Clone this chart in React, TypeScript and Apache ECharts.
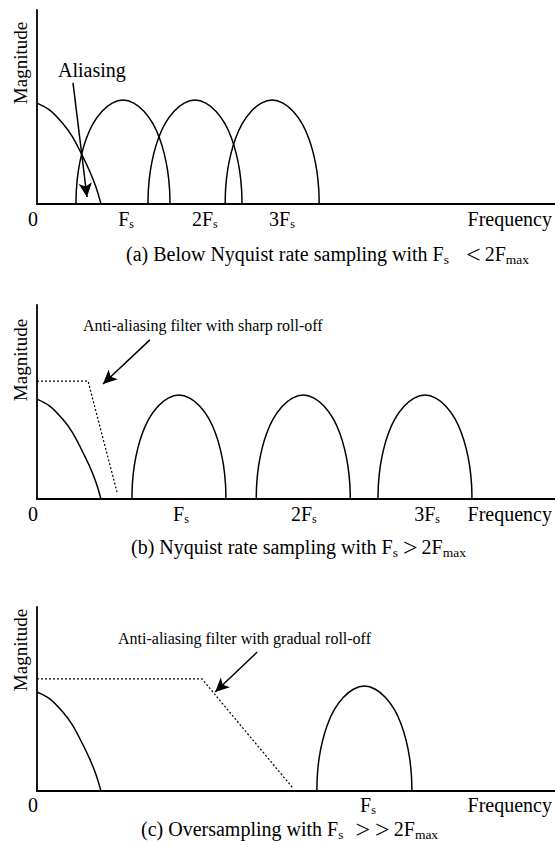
import React, { useEffect, useRef } from "react";
import * as echarts from "echarts";

// ---------- shared shape profiles ----------
// sampled lobe (image of the baseband spectrum): offset from centre (in half-widths) and relative height
const LOBE_DX = [-1, -0.99, -0.95, -0.88, -0.78, -0.64, -0.45, -0.23, 0, 0.23, 0.45, 0.64, 0.78, 0.88, 0.95, 0.99, 1];
const LOBE_H = [0, 0.15, 0.32, 0.48, 0.63, 0.77, 0.89, 0.97, 1, 0.97, 0.89, 0.77, 0.63, 0.48, 0.32, 0.15, 0];
// baseband spectrum (right half): fraction of its extent and relative height
const BASE_DX = [0, 0.2, 0.4, 0.55, 0.7, 0.82, 0.92, 1];
const BASE_H = [1, 0.93, 0.8, 0.67, 0.49, 0.33, 0.17, 0];

// ---------- panel (a) ----------
const A_BASE_END = 12.35;
const A_BASE_PEAK = 0.52;
const A_LOBE_CENTERS = [16.6, 30.5, 45.4];
const A_LOBE_HALF = 9.07;
const A_LOBE_PEAK = 0.536;
const A_TICK_VALUES = [0, 17.2, 32.4, 47.3];
const A_TICK_LABELS = [["0", ""], ["F", "s"], ["2F", "s"], ["3F", "s"]];
const A_ARROW = [[6.95, 0.624], [9.65, 0.036]];
const A_NOTE = "Aliasing";
const A_CAPTION = [["(a) Below Nyquist rate sampling with F", "m"], ["s", "s"], ["<", "ra"], ["2F", "m"], ["max", "s"]];

// ---------- panel (b) ----------
const B_BASE_END = 12.35;
const B_BASE_PEAK = 0.515;
const B_FILTER_X = [0, 9.85, 15.44];
const B_FILTER_Y = [0.608, 0.608, 0.036];
const B_LOBE_CENTERS = [27.4, 51.4, 74.9];
const B_LOBE_HALF = 9.07;
const B_LOBE_PEAK = 0.536;
const B_TICK_VALUES = [0, 27.8, 51.5, 75.3];
const B_TICK_LABELS = [["0", ""], ["F", "s"], ["2F", "s"], ["3F", "s"]];
const B_ARROW = [[21.8, 0.82], [12.74, 0.593]];
const B_NOTE = "Anti-aliasing filter with sharp roll-off";
const B_CAPTION = [["(b) Nyquist rate sampling with F", "m"], ["s", "s"], [">", "rb"], ["2F", "m"], ["max", "s"]];

// ---------- panel (c) ----------
const C_BASE_END = 12.35;
const C_BASE_PEAK = 0.538;
const C_FILTER_X = [0, 31.85, 49.4];
const C_FILTER_Y = [0.609, 0.609, 0.016];
const C_LOBE_CENTERS = [63.2];
const C_LOBE_HALF = 9.17;
const C_LOBE_PEAK = 0.57;
const C_TICK_VALUES = [0, 63.9];
const C_TICK_LABELS = [["0", ""], ["F", "s"]];
const C_ARROW = [[42.5, 0.755], [34.4, 0.538]];
const C_NOTE = "Anti-aliasing filter with gradual roll-off";
const C_CAPTION = [["(c) Oversampling with F", "m"], ["s", "s"], [">", "rc"], [">", "rd"], ["2F", "m"], ["max", "s"]];

const Y_NAME = "Magnitude";
const X_NAME = "Frequency";
const X_MAX = 100;

const FONT = "Liberation Serif, Times New Roman, serif";
const BLACK = "#000";

const lobeData = (c: number, half: number, peak: number) =>
  LOBE_DX.map((d, i) => [c + d * half, LOBE_H[i] * peak]);
const baseData = (end: number, peak: number) => BASE_DX.map((d, i) => [d * end, BASE_H[i] * peak]);

const richLabel = {
  m: { fontSize: 20, fontFamily: FONT, color: BLACK, lineHeight: 20 },
  s: { fontSize: 12, fontFamily: FONT, color: BLACK, lineHeight: 10, padding: [9, 0, 0, 0] },
  z: { fontSize: 20, fontFamily: FONT, color: BLACK, lineHeight: 20, padding: [0, 8, 0, 0] },
};
const rel = (left: number, right: number) => ({
  fontSize: 26,
  fontFamily: FONT,
  fill: BLACK,
  lineHeight: 14,
  padding: [0, right, 0, left],
});
const richCaption = {
  m: { fontSize: 20, fontFamily: FONT, fill: BLACK, lineHeight: 20 },
  s: { fontSize: 13.5, fontFamily: FONT, fill: BLACK, lineHeight: 8, padding: [11, 0, 0, 0] },
  ra: rel(17, 4),
  rb: rel(5, 4),
  rc: rel(12, 2),
  rd: rel(3, 4),
};
const capText = (parts: string[][]) => parts.map(([t, k]) => `{${k}|${t}}`).join("");

function App() {
  const ref = useRef<HTMLDivElement>(null);
  useEffect(() => {
    document.body.style.margin = "0";
    if (!ref.current) return;
    const chart = echarts.init(ref.current, null, { renderer: "svg" });

    const grids = [
      { left: 37, top: 10, right: 0, height: 194 },
      { left: 37, top: 305, right: 0, height: 194 },
      { left: 37, top: 607, right: 0, height: 184 },
    ];
    const ticks = [
      [A_TICK_VALUES, A_TICK_LABELS, 5],
      [B_TICK_VALUES, B_TICK_LABELS, 5],
      [C_TICK_VALUES, C_TICK_LABELS, 4],
    ] as any[];

    const axisLine = { show: true, onZero: false, lineStyle: { color: BLACK, width: 1.8 } };
    const xAxis = ticks.map(([vals, labels, margin], i) => ({
      type: "value",
      gridIndex: i,
      min: 0,
      max: X_MAX,
      splitLine: { show: false },
      axisTick: { show: false },
      axisLine,
      axisLabel: {
        customValues: vals,
        margin,
        hideOverlap: false,
        fontFamily: FONT,
        formatter: (v: number) => {
          let idx = 0;
          let best = Infinity;
          vals.forEach((t: number, k: number) => {
            if (Math.abs(t - v) < best) {
              best = Math.abs(t - v);
              idx = k;
            }
          });
          const [m, s] = labels[idx];
          if (!s) return `{z|${m}}`;
          return `{m|${m}}{s|${s}}`;
        },
        rich: richLabel,
      },
    }));
    const yAxis = grids.map((_, i) => ({
      type: "value",
      gridIndex: i,
      min: 0,
      max: 1,
      splitLine: { show: false },
      axisTick: { show: false },
      axisLabel: { show: false },
      axisLine,
    }));

    const solid = { color: BLACK, width: 1.5, type: "solid" };
    const dotted = { color: BLACK, width: 1.2, type: [2, 2] };
    const arrow = (pts: number[][]) => ({
      silent: true,
      symbol: ["none", "arrow"],
      symbolSize: [10, 14],
      label: { show: false },
      lineStyle: { color: BLACK, width: 1.5, type: "solid" },
      emphasis: { disabled: true },
      data: [[{ coord: pts[0] }, { coord: pts[1] }]],
    });
    const line = (i: number, data: number[][], style: any, extra: any = {}) => ({
      type: "line",
      xAxisIndex: i,
      yAxisIndex: i,
      data,
      smooth: 0.35,
      showSymbol: false,
      symbol: "none",
      silent: true,
      lineStyle: style,
      itemStyle: { color: BLACK },
      ...extra,
    });

    const series: any[] = [];
    // (a)
    series.push(line(0, baseData(A_BASE_END, A_BASE_PEAK), solid, { markLine: arrow(A_ARROW) }));
    A_LOBE_CENTERS.forEach((c) => series.push(line(0, lobeData(c, A_LOBE_HALF, A_LOBE_PEAK), solid)));
    // (b)
    series.push(line(1, baseData(B_BASE_END, B_BASE_PEAK), solid, { markLine: arrow(B_ARROW) }));
    series.push(line(1, B_FILTER_X.map((x, k) => [x, B_FILTER_Y[k]]), dotted, { smooth: false }));
    B_LOBE_CENTERS.forEach((c) => series.push(line(1, lobeData(c, B_LOBE_HALF, B_LOBE_PEAK), solid)));
    // (c)
    series.push(line(2, baseData(C_BASE_END, C_BASE_PEAK), solid, { markLine: arrow(C_ARROW) }));
    series.push(line(2, C_FILTER_X.map((x, k) => [x, C_FILTER_Y[k]]), dotted, { smooth: false }));
    C_LOBE_CENTERS.forEach((c) => series.push(line(2, lobeData(c, C_LOBE_HALF, C_LOBE_PEAK), solid)));

    const txt = (x: number, y: number, text: string, size: number, extra: any = {}) => ({
      type: "text",
      x,
      y,
      silent: true,
      style: {
        text,
        fontSize: size,
        fontFamily: FONT,
        fill: BLACK,
        align: "left",
        verticalAlign: "middle",
        ...extra,
      },
    });
    const mag = (y: number) => ({
      type: "text",
      x: 20,
      y,
      rotation: Math.PI / 2,
      silent: true,
      style: { text: Y_NAME, fontSize: 19, fontFamily: FONT, fill: BLACK, align: "center", verticalAlign: "middle" },
    });
    const freq = (y: number) => txt(552, y, X_NAME, 20, { align: "right", verticalAlign: "top", lineHeight: 20 });
    const caption = (x: number, y: number, parts: string[][]) => ({
      type: "text",
      x,
      y,
      silent: true,
      style: { text: capText(parts), rich: richCaption, fontFamily: FONT, fill: BLACK, align: "left", verticalAlign: "middle" },
    });

    const graphic = [
      mag(63),
      mag(360),
      mag(650),
      freq(209),
      freq(504),
      freq(795),
      txt(58, 70, A_NOTE, 20),
      txt(83, 325, B_NOTE, 16),
      txt(118, 638, C_NOTE, 16),
      caption(126, 254, A_CAPTION),
      caption(131, 547, B_CAPTION),
      caption(141, 829, C_CAPTION),
    ];

    chart.setOption({
      animation: false,
      backgroundColor: "#fff",
      textStyle: { fontFamily: FONT },
      grid: grids,
      xAxis,
      yAxis,
      series,
      graphic,
    } as any);
    return () => chart.dispose();
  }, []);
  return <div ref={ref} style={{ width: 555, height: 845 }} />;
}

export default App;
